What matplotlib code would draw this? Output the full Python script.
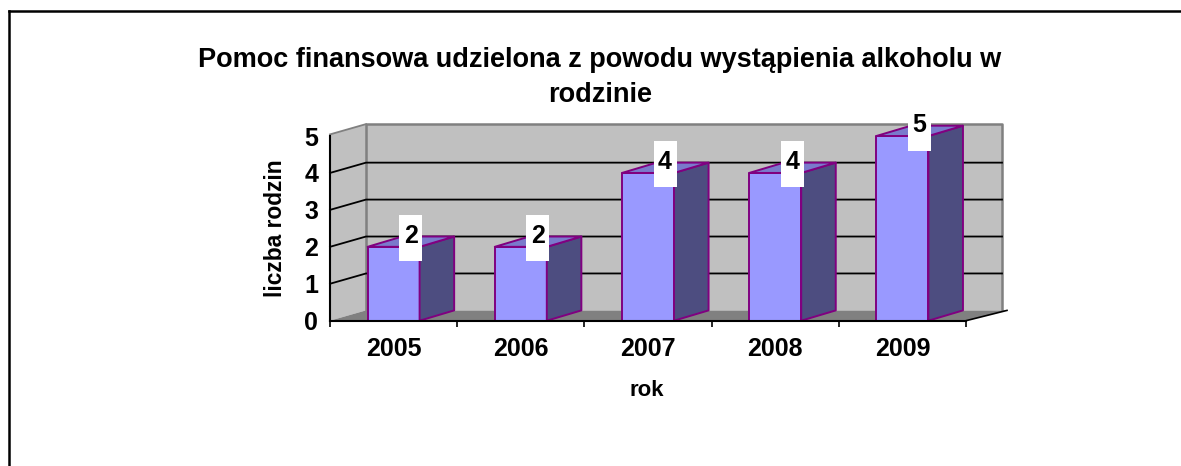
import matplotlib
matplotlib.use("Agg")
import matplotlib.pyplot as plt
from matplotlib.patches import Polygon, Rectangle
from matplotlib.lines import Line2D
from matplotlib.ticker import NullFormatter

title_lines = ["Pomoc finansowa udzielona z powodu wystąpienia alkoholu w", "rodzinie"]
years = ["2005", "2006", "2007", "2008", "2009"]
families = [2, 2, 4, 4, 5]
y_ticks = [0, 1, 2, 3, 4, 5]
x_label = "rok"
y_label = "liczba rodzin"

W, H = 1181, 466
plt.rcParams["font.family"] = ["Liberation Sans", "DejaVu Sans"]
plt.rcParams["font.weight"] = "bold"
fig = plt.figure(figsize=(W / 100, H / 100), dpi=100, facecolor="white")

# front plane of the 3D box, in pixels
L, R, T, B = 330, 966, 136, 320.7
ax = fig.add_axes([L / W, 1 - B / H, (R - L) / W, (B - T) / H])
ax.set_xlim(0, len(years))
ax.set_ylim(0, 5)
ax.patch.set_alpha(0)
px = (R - L) / len(years)   # pixels per category
py = (B - T) / 5            # pixels per value
dx, dy = 36 / px, 10.3 / py # depth of the box in data units
bw = 52 / px
extra = 1.6 / py            # walls rise a little above the top tick
EDGE = "#800080"

def poly(pts, fc, ec="none", lw=0, z=1):
    ax.add_patch(Polygon(pts, closed=True, fc=fc, ec=ec, lw=lw, zorder=z, clip_on=False, joinstyle="round"))

n = len(years)
top = 5 + extra
# walls and floor
poly([(dx, dy), (n + dx, dy), (n + dx, top + dy), (dx, top + dy)], "#C0C0C0", z=1)
poly([(0, 0), (dx, dy), (dx, top + dy), (0, top)], "#C0C0C0", z=1)
poly([(0, 0), (dx, dy), (n + dx + 5 / px, dy), (n, 0)], "#808080", z=1)
# wall borders
ax.plot([dx, dx, n + dx, n + dx], [dy, top + dy, top + dy, dy], color="#808080", lw=1.8, zorder=2, clip_on=False)
ax.plot([0, dx], [top, top + dy], color="#808080", lw=1.3, zorder=2, clip_on=False)
# gridlines
for v in y_ticks[1:-1]:
    ax.plot([0, dx, n + dx], [v, v + dy, v + dy], color="black", lw=1.3, zorder=3, clip_on=False)
# floor front-right edge
ax.plot([n, n + dx + 5 / px], [0, dy], color="black", lw=1.2, zorder=3, clip_on=False)

# bars
for i, v in enumerate(families):
    x0 = i + 0.5 - bw / 2
    x1 = i + 0.5 + bw / 2
    poly([(x0, 0), (x1, 0), (x1, v), (x0, v)], "#9999FF", EDGE, 1.4, 5)
    poly([(x1, 0), (x1 + dx * 0.96, dy), (x1 + dx * 0.96, v + dy), (x1, v)], "#4D4D80", EDGE, 1.4, 5)
    poly([(x0, v), (x1, v), (x1 + dx * 0.96, v + dy), (x0 + dx * 0.96, v + dy)], "#7A7ACC", EDGE, 1.4, 5)

# value labels on white boxes
bx_w, bx_h = 23 / px, 46 / py
for i, v in enumerate(families):
    cx = i + 0.5 + 17 / px
    cy = v + 8.5 / py
    ax.add_patch(Rectangle((cx - bx_w / 2, cy - bx_h / 2), bx_w, bx_h, fc="white", ec="none", zorder=6, clip_on=False))
    ax.text(cx, cy + 2 / py, str(v), ha="center", va="center", fontsize=18, fontweight="bold", color="black", zorder=7, clip_on=False)

# axes
for s in ["top", "right"]:
    ax.spines[s].set_visible(False)
for s in ["left", "bottom"]:
    ax.spines[s].set_linewidth(1.5)
    ax.spines[s].set_zorder(8)
ax.set_xticks(range(n + 1))
ax.xaxis.set_major_formatter(NullFormatter())
ax.tick_params(axis="x", length=4.5, width=1.2, color="black")
ax.set_xticks([i + 0.5 for i in range(n)], years, minor=True)
ax.tick_params(axis="x", which="minor", length=0, pad=12, labelsize=18)
ax.set_yticks(y_ticks)
ax.tick_params(axis="y", length=0, pad=8.5, labelsize=18)
for lab in ax.get_xticklabels(minor=True) + ax.get_yticklabels():
    lab.set_fontweight("bold")

def ftext(x, y, s, **kw):
    fig.text(x / W, 1 - y / H, s, ha="center", va="center", fontweight="bold", color="black", **kw)

ftext(600, 60, title_lines[0], fontsize=19.5)
ftext(600, 95, title_lines[1], fontsize=19.5)
ftext(647, 391, x_label, fontsize=16)
ftext(275.5, 228.5, y_label, fontsize=16.4, rotation=90)

# outer frame (top and left only)
fig.add_artist(Line2D([9.3 / W, 1], [1 - 11.3 / H, 1 - 11.3 / H], color="black", lw=1.8, transform=fig.transFigure, solid_capstyle="projecting"))
fig.add_artist(Line2D([9.3 / W, 9.3 / W], [0, 1 - 11.3 / H], color="black", lw=1.8, transform=fig.transFigure, solid_capstyle="projecting"))

fig.savefig("out.png", dpi=100, facecolor="white")
